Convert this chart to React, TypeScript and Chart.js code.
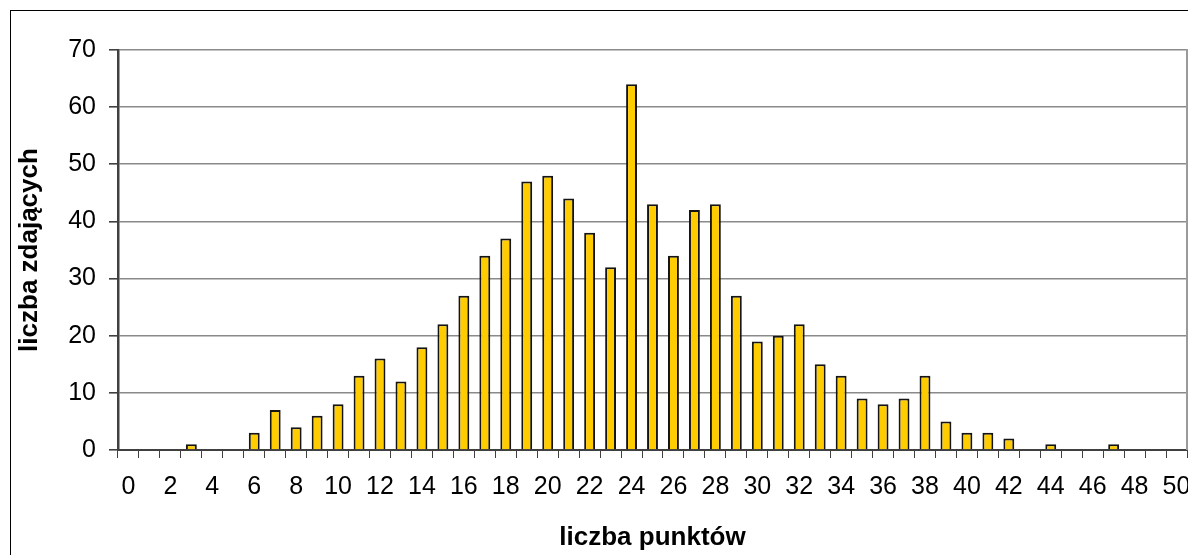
import React, { useEffect, useRef } from 'react';
import { Chart, registerables } from 'chart.js';

Chart.register(...registerables);

const points = [
  '0', '1', '2', '3', '4', '5', '6', '7', '8', '9',
  '10', '11', '12', '13', '14', '15', '16', '17', '18', '19',
  '20', '21', '22', '23', '24', '25', '26', '27', '28', '29',
  '30', '31', '32', '33', '34', '35', '36', '37', '38', '39',
  '40', '41', '42', '43', '44', '45', '46', '47', '48', '49', '50',
];

const examinees = [
  0, 0, 0, 1, 0, 0, 3, 7, 4, 6,
  8, 13, 16, 12, 18, 22, 27, 34, 37, 47,
  48, 44, 38, 32, 64, 43, 34, 42, 43, 27,
  19, 20, 22, 15, 13, 9, 8, 9, 13, 5,
  3, 3, 2, 0, 1, 0, 0, 1, 0, 0, 0,
];

const yMin = 0;
const yMax = 70;
const yStep = 10;

const xTitle = 'liczba punktów';
const yTitle = 'liczba zdających';

const FONT = '"Liberation Sans", Arial, sans-serif';

const framePlugin = {
  id: 'frame',
  beforeDraw(chart: any) {
    const { ctx, width, height } = chart;
    ctx.save();
    ctx.fillStyle = '#ffffff';
    ctx.fillRect(0, 0, width, height);
    ctx.restore();
  },
  afterDraw(chart: any) {
    const { ctx, chartArea } = chart;
    ctx.save();
    ctx.strokeStyle = '#000000';
    ctx.lineWidth = 1;
    ctx.strokeRect(10.5, 10.5, 4000, 4000);
    ctx.strokeStyle = '#9a9a9a';
    ctx.lineWidth = 2;
    ctx.beginPath();
    ctx.moveTo(chartArea.right, chartArea.top - 1);
    ctx.lineTo(chartArea.right, chartArea.bottom);
    ctx.stroke();
    ctx.restore();
  },
};

export default function App() {
  const ref = useRef<HTMLCanvasElement | null>(null);

  useEffect(() => {
    if (!ref.current) return;
    const chart = new Chart(ref.current, {
      type: 'bar',
      data: {
        labels: points,
        datasets: [
          {
            data: examinees,
            backgroundColor: '#FFCC00',
            borderColor: '#141414',
            borderWidth: 2,
            barPercentage: 0.52,
            categoryPercentage: 1.0,
          },
        ],
      },
      options: {
        responsive: false,
        animation: false,
        layout: { padding: { left: 0, top: 50, right: 33, bottom: 0 } },
        plugins: {
          legend: { display: false },
          tooltip: { enabled: false },
        },
        scales: {
          x: {
            offset: true,
            grid: {
              offset: true,
              drawOnChartArea: false,
              drawTicks: true,
              tickLength: 8,
              color: '#404040',
              tickColor: '#404040',
              lineWidth: 1,
            },
            border: { display: true, color: '#404040', width: 2 },
            ticks: {
              autoSkip: false,
              maxRotation: 0,
              minRotation: 0,
              padding: 14,
              color: '#000000',
              font: { family: FONT, size: 25 },
              callback: (_v: any, i: number) => (i % 2 === 0 ? points[i] : ''),
            },
            title: {
              display: true,
              text: xTitle,
              color: '#000000',
              font: { family: FONT, size: 26, weight: 'bold' },
              padding: { top: 0, bottom: 2 },
            },
            afterFit: (scale: any) => {
              scale.height = 105;
            },
          },
          y: {
            min: yMin,
            max: yMax,
            ticks: {
              stepSize: yStep,
              padding: 13,
              color: '#000000',
              font: { family: FONT, size: 25 },
            },
            grid: {
              color: '#8a8a8a',
              tickColor: '#404040',
              lineWidth: 1.6,
              tickLength: 9,
            },
            border: { display: true, color: '#404040', width: 2.5 },
            title: {
              display: true,
              text: yTitle,
              color: '#000000',
              font: { family: FONT, size: 26, weight: 'bold' },
              padding: { top: 14, bottom: 0 },
            },
            afterFit: (scale: any) => {
              scale.width = 118;
            },
          },
        },
      },
      plugins: [framePlugin],
    });
    return () => chart.destroy();
  }, []);

  return (
    <div
      style={{
        position: 'absolute',
        left: 0,
        top: 0,
        width: 1188,
        height: 555,
        overflow: 'hidden',
        background: '#ffffff',
      }}
    >
      <canvas ref={ref} width={1220} height={555} style={{ display: 'block' }} />
    </div>
  );
}
